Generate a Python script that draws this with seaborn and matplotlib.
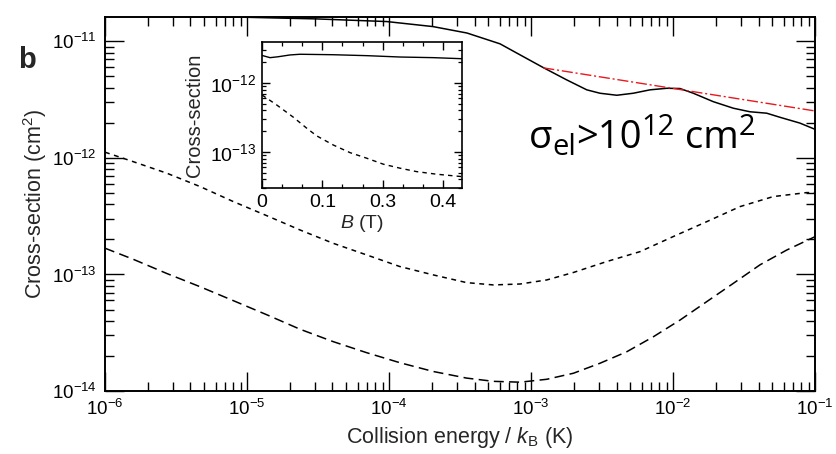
import numpy as np
import pandas as pd
import matplotlib
matplotlib.use("Agg")
import matplotlib.pyplot as plt
import seaborn as sns
from matplotlib.ticker import LogLocator, FixedLocator, FixedFormatter, NullFormatter

# ---------------- data ----------------
# main panel: collision energy / kB (K) and cross-section (cm^2)
energy_solid = [1.0e-6, 3.16e-6, 1.0e-5, 3.06e-5, 9.64e-5, 2.04e-4, 3.54e-4, 6.05e-4,
                8.38e-4, 1.22e-3, 1.78e-3, 2.47e-3, 3.06e-3, 4.02e-3, 5.25e-3, 6.89e-3,
                9.04e-3, 1.12e-2, 1.39e-2, 1.92e-2, 2.66e-2, 3.48e-2, 4.57e-2, 5.68e-2,
                7.83e-2, 1.0e-1]
sigma_solid = [1.66e-11, 1.64e-11, 1.61e-11, 1.56e-11, 1.48e-11, 1.34e-11, 1.18e-11, 9.53e-12,
               7.66e-12, 5.96e-12, 4.68e-12, 3.84e-12, 3.59e-12, 3.45e-12, 3.59e-12, 3.84e-12,
               3.96e-12, 3.94e-12, 3.59e-12, 3.04e-12, 2.67e-12, 2.49e-12, 2.42e-12, 2.23e-12,
               1.99e-12, 1.76e-12]

energy_fit = [1.22e-3, 1.0e-1]
sigma_fit = [5.93e-12, 2.53e-12]

energy_dotted = [1.0e-6, 1.58e-6, 2.72e-6, 4.67e-6, 8.01e-6, 1.39e-5, 2.36e-5, 4.05e-5,
                 6.97e-5, 1.19e-4, 2.05e-4, 3.52e-4, 5.43e-4, 8.38e-4, 1.29e-3, 1.99e-3,
                 3.41e-3, 5.86e-3, 1.00e-2, 1.73e-2, 2.96e-2, 5.08e-2, 8.74e-2, 1.0e-1]
sigma_dotted = [1.12e-12, 9.29e-13, 7.40e-13, 5.68e-13, 4.22e-13, 3.18e-13, 2.41e-13, 1.85e-13,
                1.47e-13, 1.17e-13, 9.91e-14, 8.51e-14, 8.13e-14, 8.28e-14, 8.97e-14, 1.04e-13,
                1.29e-13, 1.57e-13, 2.11e-13, 2.84e-13, 3.82e-13, 4.66e-13, 5.04e-13, 5.04e-13]

energy_dashed = [1.0e-6, 1.58e-6, 2.72e-6, 4.67e-6, 8.01e-6, 1.39e-5, 2.36e-5, 4.05e-5,
                 6.97e-5, 1.19e-4, 2.05e-4, 3.52e-4, 5.43e-4, 8.38e-4, 1.29e-3, 1.99e-3,
                 3.06e-3, 4.72e-3, 7.27e-3, 1.12e-2, 1.73e-2, 2.66e-2, 4.10e-2, 6.32e-2, 1.0e-1]
sigma_dashed = [1.68e-13, 1.35e-13, 1.02e-13, 7.85e-14, 5.96e-14, 4.49e-14, 3.39e-14, 2.65e-14,
                2.13e-14, 1.75e-14, 1.47e-14, 1.29e-14, 1.21e-14, 1.19e-14, 1.26e-14, 1.42e-14,
                1.73e-14, 2.17e-14, 2.92e-14, 4.06e-14, 5.85e-14, 8.39e-14, 1.21e-13, 1.62e-13,
                2.11e-13]

# inset: magnetic field B (T) and cross-section (cm^2)
field_solid = [0.0, 0.0133, 0.0265, 0.0464, 0.0630, 0.1354, 0.248, 0.329, 0.384, 0.431]
inset_sigma_solid = [2.51e-12, 2.33e-12, 2.40e-12, 2.55e-12, 2.61e-12, 2.57e-12, 2.49e-12,
                     2.38e-12, 2.33e-12, 2.25e-12]
field_dashed = [0.0, 0.0244, 0.0519, 0.0741, 0.0907, 0.1364, 0.1918, 0.2472, 0.3012, 0.3289,
                0.3565, 0.3897, 0.4312]
inset_sigma_dashed = [6.70e-13, 4.80e-13, 3.19e-13, 2.21e-13, 1.71e-13, 1.26e-13, 9.77e-14,
                      8.11e-14, 6.64e-14, 5.81e-14, 5.18e-14, 4.75e-14, 4.39e-14]

main_xticks = [1e-6, 1e-5, 1e-4, 1e-3, 1e-2, 1e-1]
main_yticks = [1e-14, 1e-13, 1e-12, 1e-11]
inset_yticks = [1e-13, 1e-12]
inset_xticks = [0.0, 0.1, 0.3, 0.4]
inset_xticklabels = ["0", "0.1", "0.3", "0.4"]

# annotation pieces: (text, role) where role is main / sub / sup
annotation_pieces = [("σ", "main"), ("el", "sub"), (">10", "main"), ("12", "sup"),
                     (" cm", "main"), ("2", "sup")]

# ---------------- style ----------------
sns.set_style("ticks")
plt.rcParams["font.family"] = ["Liberation Sans", "DejaVu Sans"]
plt.rcParams["mathtext.fontset"] = "custom"
plt.rcParams["mathtext.rm"] = "Liberation Sans"
plt.rcParams["mathtext.it"] = "Liberation Sans:italic"
plt.rcParams["mathtext.bf"] = "Liberation Sans:bold"
plt.rcParams["axes.unicode_minus"] = True

fig = plt.figure(figsize=(8.36, 4.54), dpi=100)
fig.patch.set_facecolor("white")
ax = fig.add_axes([0.1256, 0.1388, 0.8493, 0.8238])

lw = 1.1
sns.lineplot(x=energy_solid, y=sigma_solid, ax=ax, color="black", linewidth=lw, errorbar=None)
sns.lineplot(x=energy_fit, y=sigma_fit, ax=ax, color="#e8191e", linewidth=1.0, errorbar=None)
ax.lines[-1].set_dashes([8, 2, 1.5, 2])
sns.lineplot(x=energy_dotted, y=sigma_dotted, ax=ax, color="black", linewidth=lw, errorbar=None)
ax.lines[-1].set_dashes([3.2, 3.0])
sns.lineplot(x=energy_dashed, y=sigma_dashed, ax=ax, color="black", linewidth=lw, errorbar=None)
ax.lines[-1].set_dashes([6.5, 3.5])

ax.set_xscale("log")
ax.set_yscale("log")
ax.set_xlim(1e-6, 1e-1)
ax.set_ylim(1e-14, 1.62e-11)
ax.xaxis.set_major_locator(FixedLocator(main_xticks))
ax.yaxis.set_major_locator(FixedLocator(main_yticks))
ax.xaxis.set_minor_locator(LogLocator(base=10, subs=np.arange(2, 10), numticks=50))
ax.yaxis.set_minor_locator(LogLocator(base=10, subs=np.arange(2, 10), numticks=50))
ax.xaxis.set_minor_formatter(NullFormatter())
ax.yaxis.set_minor_formatter(NullFormatter())
ax.tick_params(which="both", direction="in", top=True, right=True, colors="black")
ax.tick_params(which="major", length=13.5, width=1.0, labelsize=13.5, pad=6)
ax.tick_params(which="minor", length=6.5, width=1.0)
for s in ax.spines.values():
    s.set_linewidth(1.4)
    s.set_color("black")

ax.set_xlabel("Collision energy / $k_\\mathrm{B}$ (K)", fontsize=15.5, labelpad=4)
ax.set_ylabel("Cross-section (cm$^\\mathrm{2}$)", fontsize=15.5, labelpad=2)

fig.text(18 / 836, (454 - 68) / 454, "b", fontsize=21, fontweight="bold",
         ha="left", va="baseline")

# annotation built piece by piece so that sub/superscripts match the reference
renderer = fig.canvas.get_renderer()
sizes = {"main": 27.5, "sub": 21, "sup": 21}
shifts = {"main": 0, "sub": -7, "sup": 13}  # pixels relative to baseline
x_px, base_px = 529.0, 454 - 148
for txt, role in annotation_pieces:
    t = fig.text(x_px / 836, (base_px + shifts[role]) / 454, txt,
                 family=["Open Sans", "DejaVu Sans"], fontsize=sizes[role],
                 ha="left", va="baseline", color="black")
    x_px = t.get_window_extent(renderer).x1

# ---------------- inset ----------------
ax_in = fig.add_axes([262 / 836, (454 - 188) / 454, 199.7 / 836, 146 / 454])
ax_in.set_facecolor("white")
sns.lineplot(x=field_solid, y=inset_sigma_solid, ax=ax_in, color="black", linewidth=1.0,
             errorbar=None)
sns.lineplot(x=field_dashed, y=inset_sigma_dashed, ax=ax_in, color="black", linewidth=1.0,
             errorbar=None)
ax_in.lines[-1].set_dashes([3.2, 3.0])

b_knots = [-0.1, 0.0, 0.1, 0.3, 0.4, 0.5]
u_knots = [-1.0, 0.0, 1.0, 2.0, 3.0, 4.0]
ax_in.set_xscale("function", functions=(lambda b: np.interp(b, b_knots, u_knots),
                                        lambda u: np.interp(u, u_knots, b_knots)))
ax_in.set_yscale("log")
ax_in.set_xlim(0, 0.431)
ax_in.set_ylim(3.0e-14, 3.93e-12)
ax_in.xaxis.set_major_locator(FixedLocator(inset_xticks))
ax_in.xaxis.set_major_formatter(FixedFormatter(inset_xticklabels))
ax_in.xaxis.set_minor_locator(FixedLocator(np.interp(np.arange(0, 3.4, 1 / 3), u_knots, b_knots)))
ax_in.xaxis.set_minor_formatter(NullFormatter())
ax_in.yaxis.set_major_locator(FixedLocator(inset_yticks))
ax_in.yaxis.set_minor_locator(LogLocator(base=10, subs=np.arange(2, 10), numticks=50))
ax_in.yaxis.set_minor_formatter(NullFormatter())
ax_in.tick_params(which="both", direction="in", top=True, right=True, colors="black")
ax_in.tick_params(which="major", length=6, width=1.0, labelsize=14, pad=4)
ax_in.tick_params(which="minor", length=3, width=0.9)
for s in ax_in.spines.values():
    s.set_linewidth(1.2)
    s.set_color("black")
ax_in.set_xlabel("$B$ (T)", fontsize=14, labelpad=2)
ax_in.set_ylabel("Cross-section", fontsize=14.5, labelpad=4)

fig.savefig("out.png", dpi=100, facecolor="white")
